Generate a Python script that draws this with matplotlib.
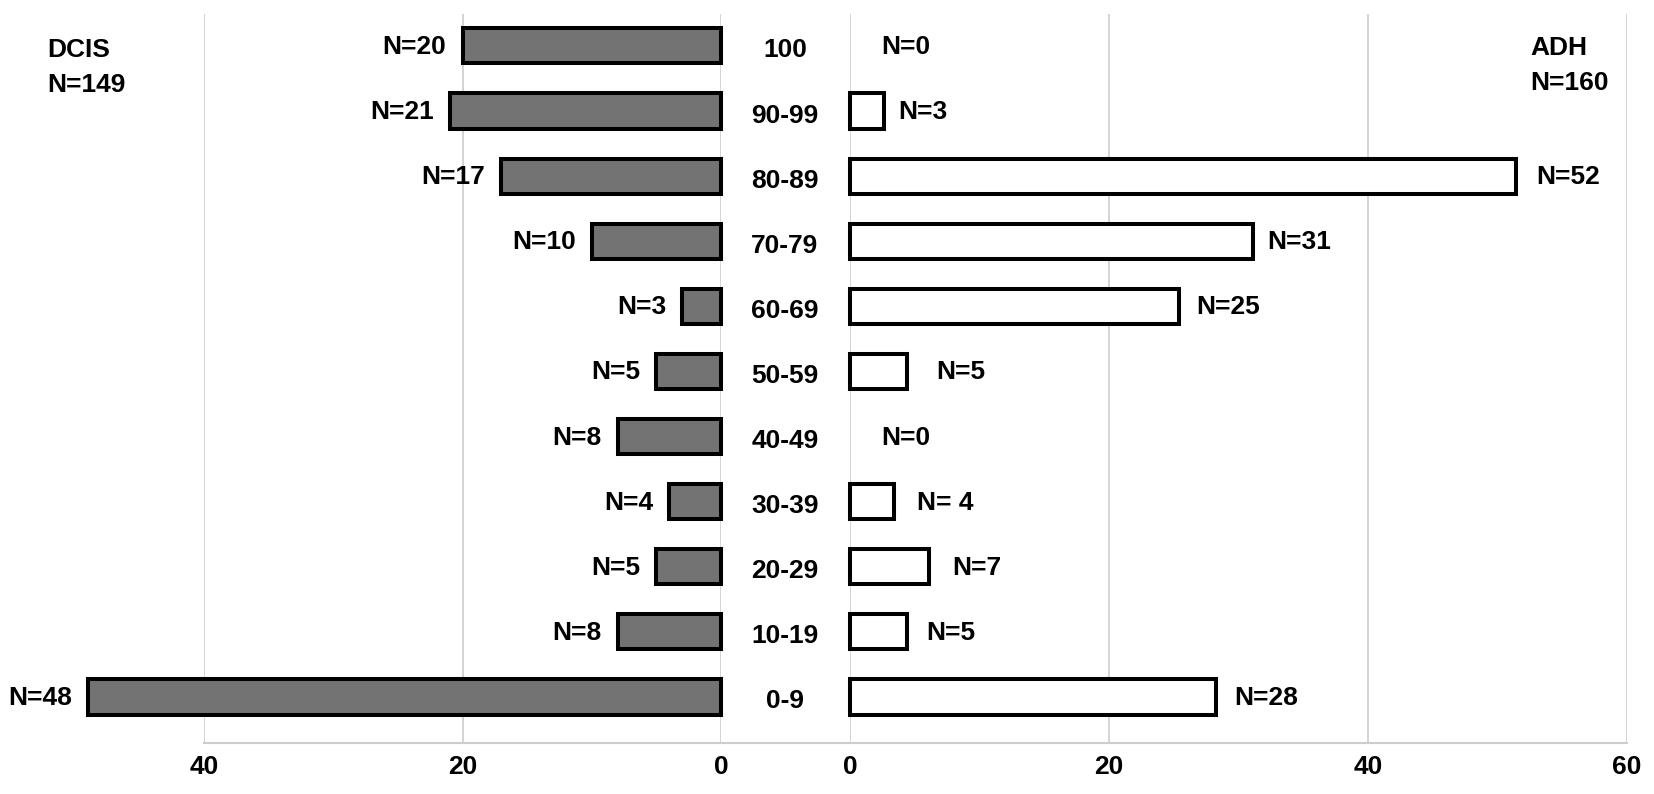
import matplotlib
matplotlib.use("Agg")
import matplotlib.pyplot as plt
from matplotlib.lines import Line2D
from matplotlib.transforms import blended_transform_factory

# ---- data ----
categories = ["100", "90-99", "80-89", "70-79", "60-69", "50-59",
              "40-49", "30-39", "20-29", "10-19", "0-9"]
dcis_values = [20, 21, 17, 10, 3, 5, 8, 4, 5, 8, 49]
dcis_labels = ["N=20", "N=21", "N=17", "N=10", "N=3", "N=5",
               "N=8", "N=4", "N=5", "N=8", "N=48"]
adh_values = [0, 2.6, 51.4, 31.1, 25.4, 4.4, 0, 3.4, 6.1, 4.4, 28.3]
adh_labels = ["N=0", "N=3", "N=52", "N=31", "N=25", "N=5",
              "N=0", "N= 4", "N=7", "N=5", "N=28"]
left_ticks = [0, 20, 40]
right_ticks = [0, 20, 40, 60]
dcis_title = ["DCIS", "N=149"]
adh_title = ["ADH", "N=160"]

# ---- style ----
FONT = "Liberation Sans"
FS = 19
plt.rcParams["font.family"] = [FONT, "DejaVu Sans"]
plt.rcParams["font.weight"] = "bold"

W, H, DPI = 1654, 794, 100
PX = 72.0 / DPI  # points per pixel
fig = plt.figure(figsize=(W / DPI, H / DPI), dpi=DPI)

ax_bottom = 1 - 743 / H
ax_top = 1 - 14 / H
axL = fig.add_axes([204 / W, ax_bottom, (721 - 204) / W, ax_top - ax_bottom])
axR = fig.add_axes([850 / W, ax_bottom, (1627 - 850) / W, ax_top - ax_bottom])

n = len(categories)
ys = [n - 1 - i for i in range(n)]
YLIM = (-0.707, 10.49)
BAR_H = 0.54
GRID = "#cdcdcd"

for ax in (axL, axR):
    ax.set_ylim(*YLIM)
    ax.set_yticks([])
    for s in ax.spines.values():
        s.set_visible(False)
    ax.set_axisbelow(True)
    ax.grid(axis="x", color=GRID, linewidth=1.2)
    ax.tick_params(axis="x", length=0, pad=9, labelsize=FS)
    ax.patch.set_alpha(0)

axL.set_xlim(40, 0)
axR.set_xlim(0, 60)
axL.set_xticks(left_ticks)
axR.set_xticks(right_ticks)
axL.set_xticklabels([str(t) for t in left_ticks], fontweight="bold")
axR.set_xticklabels([str(t) for t in right_ticks], fontweight="bold")

# bars
axL.barh(ys, dcis_values, height=BAR_H, color="#737373",
         edgecolor="black", linewidth=2.9, clip_on=False, zorder=3)
ry = [y for y, v in zip(ys, adh_values) if v > 0]
rv = [v for v in adh_values if v > 0]
axR.barh(ry, rv, height=BAR_H, color="white",
         edgecolor="black", linewidth=2.9, clip_on=False, zorder=3)

# value labels
for y, v, lab in zip(ys, dcis_values, dcis_labels):
    axL.annotate(lab, xy=(v, y), xytext=(-16 * PX, -8 * PX),
                 textcoords="offset points", ha="right", va="baseline",
                 fontsize=FS, fontweight="bold", annotation_clip=False)

right_gap_px = [31, 15, 21, 15, 17, 29, 31, 23, 23, 19, 18]
for y, v, lab, g in zip(ys, adh_values, adh_labels, right_gap_px):
    axR.annotate(lab, xy=(v, y), xytext=(g * PX, -8 * PX),
                 textcoords="offset points", ha="left", va="baseline",
                 fontsize=FS, fontweight="bold", annotation_clip=False)

# category labels in the middle
tr = blended_transform_factory(fig.transFigure, axL.transData)
for y, c in zip(ys, categories):
    axL.annotate(c, xy=(785 / W, y), xycoords=tr, xytext=(0, -11.5 * PX),
                 textcoords="offset points", ha="center", va="baseline",
                 fontsize=FS, fontweight="bold", annotation_clip=False)

# group titles
fig.text(47 / W, 1 - 56.7 / H, dcis_title[0], ha="left", va="baseline",
         fontsize=FS, fontweight="bold")
fig.text(47 / W, 1 - 91.7 / H, dcis_title[1], ha="left", va="baseline",
         fontsize=FS, fontweight="bold")
fig.text(1530 / W, 1 - 55 / H, adh_title[0], ha="left", va="baseline",
         fontsize=FS, fontweight="bold")
fig.text(1530 / W, 1 - 90 / H, adh_title[1], ha="left", va="baseline",
         fontsize=FS, fontweight="bold")

# continuous baseline across both panels
fig.add_artist(Line2D([204 / W, 1627 / W], [ax_bottom, ax_bottom],
                      transform=fig.transFigure, color=GRID, linewidth=1.5))

fig.savefig("out.png", dpi=DPI, facecolor="white")
